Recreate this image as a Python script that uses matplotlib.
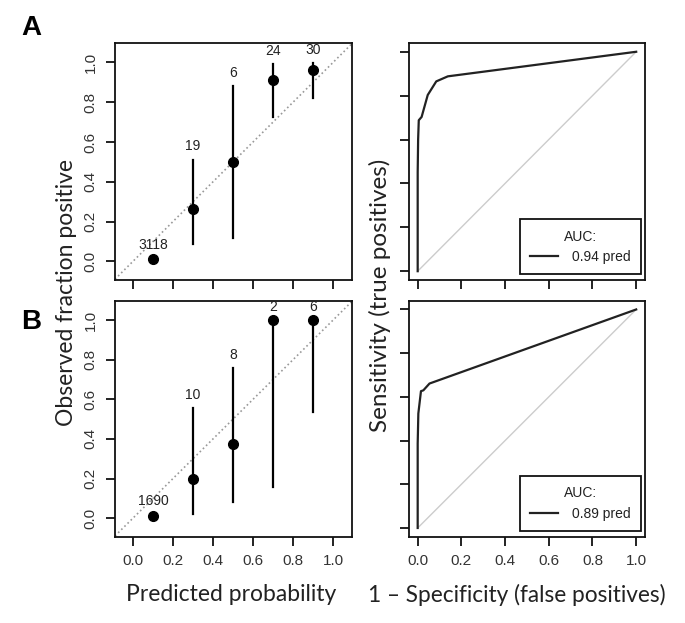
import matplotlib
matplotlib.use('Agg')
from matplotlib import pyplot as plt

# calibration data (bin midpoints, observed fraction, 95% CI, counts)
bins = [0.1, 0.3, 0.5, 0.7, 0.9]
obs_a = [0.010, 0.263, 0.500, 0.910, 0.962]
lo_a = [0.006, 0.087, 0.116, 0.724, 0.820]
hi_a = [0.015, 0.511, 0.880, 0.990, 0.995]
n_a = ['3118', '19', '6', '24', '30']

obs_b = [0.009, 0.199, 0.373, 1.000, 1.000]
lo_b = [0.004, 0.022, 0.081, 0.157, 0.538]
hi_b = [0.018, 0.557, 0.759, 1.000, 1.000]
n_b = ['1690', '10', '8', '2', '6']

# ROC curves
fpr_a = [0.0, 0.0, 0.002, 0.005, 0.018, 0.046, 0.085, 0.138, 1.0]
tpr_a = [0.0, 0.45, 0.600, 0.688, 0.703, 0.803, 0.865, 0.888, 1.0]
auc_a = '0.94 pred'

fpr_b = [0.0, 0.0, 0.003, 0.015, 0.026, 0.054, 1.0]
tpr_b = [0.0, 0.386, 0.524, 0.626, 0.630, 0.661, 1.0]
auc_b = '0.89 pred'

ticks = [0.0, 0.2, 0.4, 0.6, 0.8, 1.0]
tick_labels = ['0.0', '0.2', '0.4', '0.6', '0.8', '1.0']

TICK_FONT = 'Liberation Sans'
LABEL_FONT = 'Lato'


def style_axes(ax, xlabels, ylabels):
    for s in ax.spines.values():
        s.set_linewidth(1.3)
        s.set_color('#111111')
    ax.set_xticks(ticks)
    ax.set_yticks(ticks)
    ax.tick_params(length=6.5, width=1.3, color='#111111', labelsize=11,
                   labelcolor='#333333', pad=6)
    ax.set_xticklabels(tick_labels if xlabels else [], family=TICK_FONT)
    if ylabels:
        ax.set_yticklabels(tick_labels, family=TICK_FONT, rotation=90, va='center')
    else:
        ax.set_yticklabels([])


def calib_plot(ax, obs, lo, hi, counts, xlabels):
    ax.plot([-0.2, 1.2], [-0.2, 1.2], linestyle=':', color='#999999', lw=1.2)
    for x, y, l, h, c in zip(bins, obs, lo, hi, counts):
        ax.plot([x, x], [l, h], color='black', lw=1.6)
        ax.annotate(c, (x, h), xytext=(0, 9.5), textcoords='offset points',
                    ha='center', va='center', fontsize=10, color='#222222',
                    family=TICK_FONT, annotation_clip=False, clip_on=True)
    ax.plot(bins, obs, 'o', color='black', markersize=7)
    ax.set_xlim(-0.09, 1.095)
    ax.set_ylim(-0.094, 1.098)
    style_axes(ax, xlabels, True)


def roc_plot(ax, fpr, tpr, auc, xlabels):
    ax.plot([0, 1], [0, 1], color='#cccccc', lw=1)
    ax.plot(fpr, tpr, color='#222222', lw=1.6, label=auc)
    ax.set_xlim(-0.04, 1.04)
    ax.set_ylim(-0.04, 1.04)
    style_axes(ax, xlabels, False)
    leg = ax.legend(title='AUC:', loc='lower right', bbox_to_anchor=(0.983, 0.024),
                    fancybox=False, framealpha=1, edgecolor='#111111',
                    prop={'family': TICK_FONT, 'size': 10},
                    title_fontproperties={'family': TICK_FONT, 'size': 10},
                    handlelength=2.0, handletextpad=1.0, borderpad=0.75,
                    borderaxespad=0, labelspacing=0.45)
    leg.get_frame().set_linewidth(1.3)
    leg.get_title().set_color('#222222')
    for t in leg.get_texts():
        t.set_color('#222222')


fig = plt.figure(figsize=(6.85, 6.23), dpi=100)
ax1 = fig.add_axes([0.1679, 0.5506, 0.346, 0.3804])
ax2 = fig.add_axes([0.597, 0.5506, 0.3445, 0.3804])
ax3 = fig.add_axes([0.1679, 0.1385, 0.346, 0.3788])
ax4 = fig.add_axes([0.597, 0.1385, 0.3445, 0.3788])

calib_plot(ax1, obs_a, lo_a, hi_a, n_a, False)
calib_plot(ax3, obs_b, lo_b, hi_b, n_b, True)
roc_plot(ax2, fpr_a, tpr_a, auc_a, False)
roc_plot(ax4, fpr_b, tpr_b, auc_b, True)

fig.text(0.046, 0.955, 'A', fontsize=20, fontweight='bold', family=TICK_FONT,
         ha='center', va='center')
fig.text(0.045, 0.483, 'B', fontsize=20, fontweight='bold', family=TICK_FONT,
         ha='center', va='center')

fig.text(0.097, 0.5305, 'Observed fraction positive', rotation=90, fontsize=16.5,
         family=LABEL_FONT, color='#222222', ha='center', va='center')
fig.text(0.555, 0.5265, 'Sensitivity (true positives)', rotation=90, fontsize=17.5,
         family=LABEL_FONT, color='#222222', ha='center', va='center')
fig.text(0.337, 0.045, 'Predicted probability', fontsize=16.5,
         family=LABEL_FONT, color='#222222', ha='center', va='center')
fig.text(0.755, 0.045, '1 \u2013 Specificity (false positives)', fontsize=16.3,
         family=LABEL_FONT, color='#222222', ha='center', va='center')

plt.savefig('out.png', dpi=100)
plt.close(fig)
